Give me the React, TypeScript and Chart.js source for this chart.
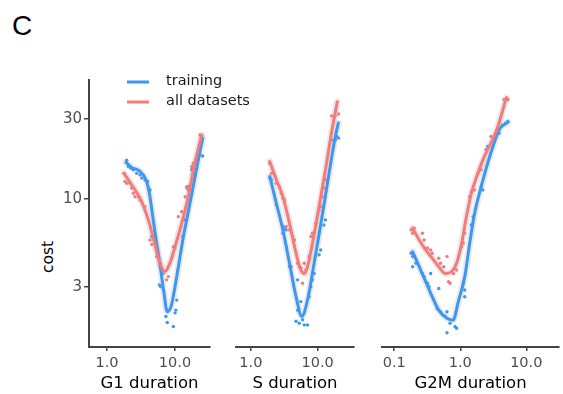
import React, { useEffect, useRef } from "react";
import { Chart, registerables } from "chart.js";

Chart.register(...registerables);

const FONT = "'DejaVu Sans', Verdana, sans-serif";
const FONT_C = "'Liberation Sans', Arial, Helvetica, sans-serif";
const BLUE = "#3b97f3";
const RED = "#f7797a";
const HALO = "rgba(165,165,165,0.22)";

// ---- shared axis data ----
const yTicks = [3, 10, 30];
const yMin = 1.315;
const yMax = 51;
const legendLabels = ["training", "all datasets"];
const panelTitles = ["G1 duration", "S duration", "G2M duration"];
const g1Ticks = [1, 10];
const sTicks = [1, 10];
const g2mTicks = [0.1, 1, 10];

// ---- G1 ----
const g1TrainLineX = [1.9, 2.31, 3.06, 3.74, 4.2, 4.7, 5.37, 6.02, 6.85, 7.7, 8.9, 10.6, 13.3, 16.6, 20.8, 25.5];
const g1TrainLineY = [16.5, 15.4, 14.6, 13.0, 10.8, 7.9, 5.45, 4.05, 2.8, 2.13, 2.35, 3.45, 5.97, 9.42, 15.2, 23.0];
const g1AllLineX = [1.78, 2.31, 3.06, 4.05, 5.1, 6.0, 7.1, 8.4, 10.0, 11.8, 14.1, 15.8, 18.6, 24.6];
const g1AllLineY = [14.2, 12.1, 10.1, 7.5, 5.3, 4.14, 3.7, 4.14, 5.2, 6.54, 8.6, 10.5, 14.9, 24.0];
const g1TrainPtsX = [1.95, 2.06, 2.25, 2.44, 2.73, 3.06, 3.24, 3.62, 3.94, 4.05, 4.29, 4.55, 5.08, 5.9, 6.15, 7.35, 7.7, 9.45, 10.0, 10.3, 10.6, 13.0, 14.1, 14.9, 15.8, 17.6, 23.3, 25.5];
const g1TrainPtsY = [17.0, 15.6, 15.2, 14.9, 14.2, 13.9, 13.3, 13.0, 12.7, 11.6, 11.3, 5.97, 5.97, 3.08, 3.0, 2.0, 1.84, 1.74, 2.1, 2.18, 2.5, 5.97, 7.5, 11.8, 11.3, 14.9, 18.3, 18.0];
const g1AllPtsX = [1.78, 1.84, 1.95, 2.18, 2.31, 2.44, 2.58, 2.9, 3.06, 3.24, 3.62, 4.29, 4.55, 5.37, 6.02, 6.73, 7.54, 7.98, 9.45, 10.0, 11.2, 12.5, 14.1, 14.9, 15.8, 17.6, 18.6, 23.3, 24.6];
const g1AllPtsY = [14.2, 12.7, 12.4, 12.4, 11.6, 10.8, 10.3, 10.3, 9.85, 9.6, 9.0, 5.7, 5.35, 4.54, 4.14, 3.6, 3.3, 3.45, 5.2, 5.1, 7.85, 8.4, 10.3, 11.6, 11.9, 15.6, 16.3, 24.0, 23.5];

// ---- S ----
const sTrainLineX = [1.92, 2.41, 3.02, 3.79, 4.75, 5.8, 7.05, 8.85, 11.1, 13.9, 18.4, 20.4];
const sTrainLineY = [13.6, 9.42, 6.54, 4.14, 2.62, 2.0, 2.5, 4.14, 7.0, 12.1, 23.5, 28.3];
const sAllLineX = [1.92, 2.41, 3.02, 3.79, 4.75, 5.6, 6.3, 7.05, 8.35, 10.5, 13.1, 16.4, 19.7];
const sAllLineY = [16.7, 13.0, 10.3, 7.16, 4.75, 3.78, 3.6, 3.95, 5.45, 9.0, 14.9, 25.8, 37.9];
const sTrainPtsX = [1.92, 2.03, 2.41, 3.02, 3.2, 3.38, 3.02, 3.79, 4.0, 5.0, 5.6, 5.0, 4.75, 5.31, 5.95, 6.3, 7.05, 7.46, 7.9, 8.35, 8.85, 10.5, 11.1, 12.4, 13.1, 16.1, 18.4, 20.6, 19.4];
const sTrainPtsY = [13.3, 13.0, 9.2, 6.85, 6.7, 6.54, 6.25, 3.95, 3.95, 3.3, 2.45, 2.18, 1.87, 1.82, 1.91, 1.78, 1.78, 2.62, 3.0, 3.3, 3.6, 4.65, 4.97, 7.0, 7.5, 22.4, 22.4, 23.0, 23.5];
const sAllPtsX = [1.92, 2.03, 2.41, 2.7, 2.86, 3.02, 3.2, 3.38, 3.79, 4.24, 4.5, 5.0, 5.31, 5.6, 5.95, 6.3, 6.66, 7.46, 7.9, 8.35, 9.35, 10.5, 11.1, 11.7, 12.4, 13.1, 16.1, 18.4, 20.6];
const sAllPtsY = [16.3, 14.2, 12.4, 11.8, 10.8, 10.1, 9.85, 6.85, 6.54, 5.97, 5.7, 4.14, 3.95, 3.87, 3.15, 4.14, 3.78, 4.54, 5.97, 6.25, 7.16, 8.6, 9.0, 10.3, 11.6, 13.0, 31.2, 31.2, 32.0];

// ---- G2M ----
const g2mTrainLineX = [0.19, 0.239, 0.3, 0.376, 0.472, 0.63, 0.78, 0.934, 1.17, 1.39, 1.65, 2.07, 2.6, 3.26, 3.88, 5.32];
const g2mTrainLineY = [4.85, 3.95, 3.22, 2.62, 2.18, 1.95, 1.9, 2.45, 3.45, 5.45, 8.2, 11.8, 16.3, 21.5, 25.8, 28.7];
const g2mAllLineX = [0.19, 0.239, 0.3, 0.376, 0.472, 0.593, 0.744, 0.88, 1.05, 1.24, 1.47, 1.85, 2.32, 2.91, 3.66, 4.97];
const g2mAllLineY = [6.7, 5.7, 4.97, 4.44, 3.95, 3.6, 3.7, 4.14, 5.45, 7.85, 10.8, 14.2, 17.9, 21.5, 26.5, 39.9];
const g2mTrainPtsX = [0.18, 0.19, 0.19, 0.213, 0.267, 0.283, 0.318, 0.336, 0.356, 0.472, 0.446, 0.5, 0.63, 0.593, 0.7, 0.63, 0.834, 0.88, 1.11, 1.17, 1.17, 1.47, 1.56, 2.07, 2.2, 2.6, 3.46, 3.88, 4.34, 4.85, 5.25];
const g2mTrainPtsY = [4.75, 4.54, 3.95, 4.14, 3.6, 3.45, 3.15, 3.0, 3.6, 2.93, 2.23, 2.13, 2.13, 2.0, 1.82, 1.6, 1.74, 1.7, 3.15, 2.87, 2.62, 7.0, 7.85, 11.8, 11.3, 20.5, 23.5, 24.6, 27.5, 28.2, 28.9];
const g2mAllPtsX = [0.18, 0.19, 0.201, 0.267, 0.283, 0.318, 0.356, 0.376, 0.472, 0.5, 0.56, 0.63, 0.664, 0.7, 0.79, 0.88, 1.05, 1.11, 1.17, 1.39, 1.47, 1.65, 1.85, 2.07, 2.45, 2.91, 4.59, 5.05, 5.3];
const g2mAllPtsY = [6.54, 6.25, 6.7, 6.25, 5.7, 5.1, 4.97, 4.75, 4.44, 4.14, 3.95, 4.54, 3.22, 3.15, 3.6, 3.78, 5.2, 5.45, 6.25, 10.3, 11.0, 11.3, 14.2, 14.9, 19.6, 23.5, 39.0, 39.9, 39.0];

const zip = (xs: number[], ys: number[]) => xs.map((x, i) => ({ x, y: ys[i] }));

type PanelCfg = {
  left: number;
  width: number;
  padL: number;
  padR: number;
  xMin: number;
  xMax: number;
  xTicks: number[];
  title: string;
  showY: boolean;
  trainLine: { x: number; y: number }[];
  allLine: { x: number; y: number }[];
  trainPts: { x: number; y: number }[];
  allPts: { x: number; y: number }[];
};

const panels: PanelCfg[] = [
  {
    left: 0, width: 260, padL: 0, padR: 50, xMin: 0.544, xMax: 32.7, xTicks: g1Ticks, title: panelTitles[0], showY: true,
    trainLine: zip(g1TrainLineX, g1TrainLineY), allLine: zip(g1AllLineX, g1AllLineY),
    trainPts: zip(g1TrainPtsX, g1TrainPtsY), allPts: zip(g1AllPtsX, g1AllPtsY),
  },
  {
    left: 220, width: 140, padL: 16, padR: 6, xMin: 0.644, xMax: 35, xTicks: sTicks, title: panelTitles[1], showY: false,
    trainLine: zip(sTrainLineX, sTrainLineY), allLine: zip(sAllLineX, sAllLineY),
    trainPts: zip(sTrainPtsX, sTrainPtsY), allPts: zip(sAllPtsX, sAllPtsY),
  },
  {
    left: 370, width: 193, padL: 12, padR: 0, xMin: 0.0653, xMax: 31.3, xTicks: g2mTicks, title: panelTitles[2], showY: false,
    trainLine: zip(g2mTrainLineX, g2mTrainLineY), allLine: zip(g2mAllLineX, g2mAllLineY),
    trainPts: zip(g2mTrainPtsX, g2mTrainPtsY), allPts: zip(g2mAllPtsX, g2mAllPtsY),
  },
];

const legendPlugin = {
  id: "ggLegend",
  afterDraw(chart: any) {
    const { ctx, chartArea } = chart;
    const colors = [BLUE, RED];
    ctx.save();
    legendLabels.forEach((label, i) => {
      const y = chartArea.top + 2 + i * 20;
      ctx.strokeStyle = colors[i];
      ctx.lineWidth = 3;
      ctx.beginPath();
      ctx.moveTo(chartArea.left + 38, y);
      ctx.lineTo(chartArea.left + 60, y);
      ctx.stroke();
      ctx.fillStyle = "#1a1a1a";
      ctx.font = `14.5px ${FONT}`;
      ctx.textBaseline = "middle";
      ctx.textAlign = "left";
      ctx.fillText(label, chartArea.left + 77, y - 1);
    });
    ctx.restore();
  },
};

function Panel({ cfg, legend }: { cfg: PanelCfg; legend: boolean }) {
  const ref = useRef<HTMLCanvasElement>(null);
  useEffect(() => {
    const lineDs = (data: any[], color: string, width: number) => ({
      type: "line" as const,
      data,
      showLine: true,
      borderColor: color,
      borderWidth: width,
      pointRadius: 0,
      fill: false,
      tension: 0.4,
      cubicInterpolationMode: "monotone" as const,
      borderCapStyle: "round" as const,
    });
    const ptsDs = (data: any[], color: string) => ({
      type: "scatter" as const,
      data,
      showLine: false,
      pointRadius: 1.7,
      pointBorderWidth: 0,
      backgroundColor: color,
      borderColor: color,
    });
    const chart = new Chart(ref.current as HTMLCanvasElement, {
      type: "scatter",
      data: {
        datasets: [
          lineDs(cfg.allLine, RED, 3),
          lineDs(cfg.trainLine, BLUE, 3),
          lineDs(cfg.allLine, HALO, 7),
          lineDs(cfg.trainLine, HALO, 7),
          ptsDs(cfg.allPts, RED),
          ptsDs(cfg.trainPts, BLUE),
        ] as any,
      },
      options: {
        animation: false,
        responsive: false,
        devicePixelRatio: 1,
        layout: { padding: { left: cfg.padL, right: cfg.padR, top: 80, bottom: 0 } },
        plugins: { legend: { display: false }, tooltip: { enabled: false } },
        events: [],
        scales: {
          x: {
            type: "logarithmic",
            min: cfg.xMin,
            max: cfg.xMax,
            afterBuildTicks: (s: any) => {
              s.ticks = cfg.xTicks.map((v) => ({ value: v }));
            },
            afterFit: (s: any) => {
              s.height = 47;
            },
            ticks: {
              autoSkip: false,
              maxRotation: 0,
              padding: 4,
              color: "#4d4d4d",
              font: { size: 14.5, family: FONT },
              callback: (v: any) => Number(v).toFixed(1),
            },
            grid: { drawOnChartArea: false, drawTicks: true, tickLength: 4, color: "#444", lineWidth: 1.5 },
            border: { display: true, color: "#444", width: 2 },
            title: {
              display: true,
              text: cfg.title,
              color: "#000",
              font: { size: 16.5, family: FONT },
              padding: { top: 0, bottom: 0 },
            },
          },
          y: {
            type: "logarithmic",
            display: cfg.showY,
            min: yMin,
            max: yMax,
            afterBuildTicks: (s: any) => {
              s.ticks = yTicks.map((v) => ({ value: v }));
            },
            afterFit: (s: any) => {
              s.width = cfg.showY ? 89 : 0;
            },
            ticks: {
              autoSkip: false,
              padding: 2,
              color: "#4d4d4d",
              font: { size: 15, family: FONT },
              callback: (v: any) => String(v),
            },
            grid: { drawOnChartArea: false, drawTicks: true, tickLength: 5, color: "#444", lineWidth: 1.5 },
            border: { display: true, color: "#444", width: 2 },
          },
        },
      } as any,
      plugins: legend ? [legendPlugin] : [],
    });
    return () => chart.destroy();
  }, []);
  return (
    <canvas
      ref={ref}
      width={cfg.width}
      height={394}
      style={{ position: "absolute", left: cfg.left, top: 0, width: cfg.width, height: 394 }}
    />
  );
}

export default function App() {
  return (
    <div
      style={{
        position: "absolute",
        left: 0,
        top: 0,
        width: 563,
        height: 394,
        background: "#fff",
        overflow: "hidden",
        fontFamily: FONT,
      }}
    >
      <div style={{ position: "absolute", left: 12, top: 10, fontSize: 28, lineHeight: "32px", color: "#000", fontFamily: FONT_C }}>C</div>
      <div
        style={{
          position: "absolute",
          left: 48,
          top: 257,
          fontSize: 15.5,
          lineHeight: "20px",
          color: "#000",
          transform: "translate(-50%, -50%) rotate(-90deg)",
          whiteSpace: "nowrap",
        }}
      >
        cost
      </div>
      {panels.map((p, i) => (
        <Panel key={i} cfg={p} legend={i === 0} />
      ))}
    </div>
  );
}
